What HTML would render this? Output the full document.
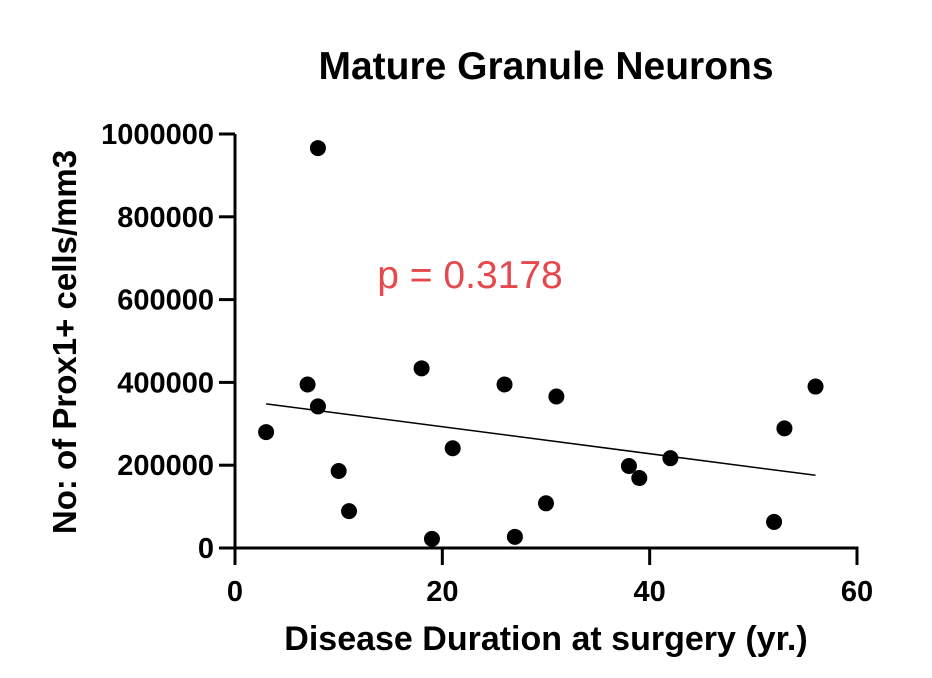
<!DOCTYPE html>
<html><head><meta charset="utf-8"><style>
body{margin:0;background:#fff;}
svg{display:block;font-family:"Liberation Sans",Arial,sans-serif;}
</style></head><body>
<svg id="chart" width="932" height="678">
<text x="546" y="79" text-anchor="middle" font-size="39" font-weight="bold">Mature Granule Neurons</text>
<text transform="translate(76,342) rotate(-90)" text-anchor="middle" font-size="33" font-weight="bold">No: of Prox1+ cells/mm3</text>
<text x="546" y="650" text-anchor="middle" font-size="34" font-weight="bold">Disease Duration at surgery (yr.)</text>
<text x="470" y="288" text-anchor="middle" font-size="39" fill="#e5484d">p = 0.3178</text>
<g id="axes"></g><g id="marks"></g>
</svg>
<script>
const xVals=[3,7,8,8,10,11,18,19,21,26,27,30,31,38,39,42,52,53,56];
const yVals=[280000,395000,966000,342000,186000,89000,434000,22000,241000,395000,27000,108000,366000,198000,169000,217000,63000,289000,390000];
const xTicks=[0,20,40,60];
const yTicks=[0,200000,400000,600000,800000,1000000];
const NS="http://www.w3.org/2000/svg";
const X0=235,X1=857,Y0=548,Y1=134;
const sx=v=>X0+(v/60)*(X1-X0);
const sy=v=>Y0-(v/1000000)*(Y0-Y1);
function mk(t,a,p){const e=document.createElementNS(NS,t);for(const k in a)e.setAttribute(k,a[k]);p.appendChild(e);return e;}
const ax=document.getElementById('axes'),mr=document.getElementById('marks');
let e=mk('line',{x1:X0,y1:Y1,x2:X0,y2:Y0+1.5,stroke:'#000','stroke-width':3},ax);


e=mk('line',{x1:X0-1.5,y1:Y0,x2:X1+1.5,y2:Y0,stroke:'#000','stroke-width':3},ax);


yTicks.forEach(v=>{
 const y=sy(v);
 let t=mk('line',{x1:X0-16,y1:y,x2:X0,y2:y,stroke:'#000','stroke-width':3},ax);
 
 
 let l=mk('text',{x:X0-21,y:y+10,'text-anchor':'end','font-size':29,'font-weight':'bold'},ax);
 l.textContent=String(v);
 
 
});
xTicks.forEach(v=>{
 const x=sx(v);
 let t=mk('line',{x1:x,y1:Y0,x2:x,y2:Y0+17,stroke:'#000','stroke-width':3},ax);
 
 
 let l=mk('text',{x:x,y:601,'text-anchor':'middle','font-size':29,'font-weight':'bold'},ax);
 l.textContent=String(v);
 
 
});
const n=xVals.length;
const mx=xVals.reduce((a,b)=>a+b,0)/n,my=yVals.reduce((a,b)=>a+b,0)/n;
let sxy=0,sxx=0;for(let i=0;i<n;i++){sxy+=(xVals[i]-mx)*(yVals[i]-my);sxx+=(xVals[i]-mx)**2;}
const slope=sxy/sxx,icpt=my-slope*mx;
const xmin=Math.min(...xVals),xmax=Math.max(...xVals);
e=mk('line',{x1:sx(xmin),y1:sy(icpt+slope*xmin),x2:sx(xmax),y2:sy(icpt+slope*xmax),stroke:'#000','stroke-width':1.5},mr);


for(let i=0;i<n;i++){
 const c=mk('circle',{cx:sx(xVals[i]),cy:sy(yVals[i]),r:8,fill:'#000'},mr);
 
 
}
</script>
</body></html>
